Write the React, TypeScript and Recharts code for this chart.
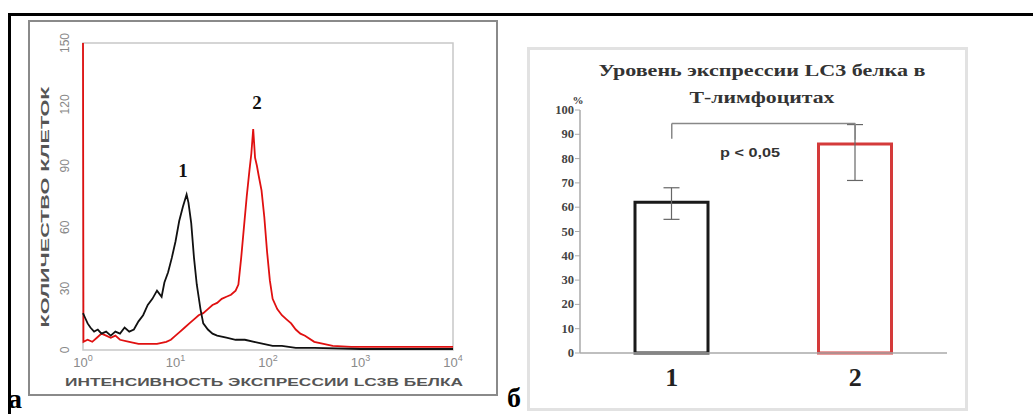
import React from 'react';
import {
  LineChart, Line, XAxis, YAxis, ReferenceArea,
  BarChart, Bar, Cell, ErrorBar, ReferenceLine,
} from 'recharts';

// ---------- Panel а: histogram (log10 intensity vs cell count) ----------
const histXTicks = [0, 1, 2, 3, 4];
const histYTicks = [0, 30, 60, 90, 120, 150];

const blackLogX = [0, 0.02, 0.05, 0.08, 0.12, 0.16, 0.2, 0.25, 0.3, 0.35, 0.4, 0.45, 0.5, 0.55, 0.6, 0.65, 0.7, 0.75, 0.8, 0.85, 0.88, 0.92, 0.96, 1.0, 1.04, 1.08, 1.12, 1.14, 1.17, 1.2, 1.23, 1.27, 1.3, 1.35, 1.4, 1.45, 1.55, 1.65, 1.75, 1.85, 1.95, 2.05, 2.15, 2.3, 2.5, 3.0, 3.5, 4.0];
const blackCount = [18, 16, 13, 11, 9, 10, 8, 9, 7, 9, 8, 11, 9, 10, 14, 17, 22, 25, 29, 26, 33, 38, 45, 53, 63, 70, 76, 72, 62, 45, 32, 20, 13, 10, 8, 7, 6, 5, 5, 4, 3, 2, 2, 1, 1, 0.5, 0.5, 0.5];

const redLogX = [0, 0.005, 0.05, 0.1, 0.15, 0.2, 0.25, 0.3, 0.35, 0.4, 0.5, 0.6, 0.7, 0.8, 0.9, 0.95, 1.0, 1.05, 1.1, 1.15, 1.2, 1.25, 1.3, 1.35, 1.4, 1.45, 1.5, 1.55, 1.6, 1.65, 1.68, 1.71, 1.74, 1.77, 1.8, 1.82, 1.84, 1.86, 1.88, 1.9, 1.93, 1.96, 1.99, 2.02, 2.05, 2.1, 2.15, 2.2, 2.25, 2.3, 2.35, 2.4, 2.5, 2.6, 2.7, 2.9, 3.2, 3.6, 4.0];
const redCount = [150, 4, 5, 4, 6, 8, 7, 6, 7, 5, 4, 3, 3, 3, 4, 5, 7, 9, 11, 13, 15, 17, 18, 20, 22, 23, 25, 26, 27, 29, 32, 45, 60, 75, 88, 96, 108, 94, 90, 85, 78, 65, 48, 34, 25, 20, 17, 15, 13, 10, 8, 7, 4, 3, 2, 1.5, 1.5, 1.5, 1.5];

const blackData = blackLogX.map((x, i) => ({ x, y: blackCount[i] }));
const redData = redLogX.map((x, i) => ({ x, y: redCount[i] }));

// ---------- Panel б: bar chart ----------
const barCategories = ['1', '2'];
const barValues = [62, 86];
const barErrLow = [7, 15];
const barErrHigh = [6, 8];
const barStrokes = ['#1a1a1a', '#d43a3a'];
const barYTicks = [0, 10, 20, 30, 40, 50, 60, 70, 80, 90, 100];

const barData = barCategories.map((name, i) => ({
  name,
  value: barValues[i],
  err: [barErrLow[i], barErrHigh[i]],
}));

const HistXTick = (props: any) => {
  const { x, payload } = props;
  return (
    <text x={x} y={347} textAnchor="middle" fill="#8a8a8a" fontFamily="Arial, 'Liberation Sans', sans-serif" fontSize={13}>
      <tspan>10</tspan>
      <tspan dy={-6} fontSize={9}>{payload.value}</tspan>
    </text>
  );
};

const HistYTick = (props: any) => {
  const { y, payload } = props;
  return (
    <text x={41} y={y} textAnchor="middle" fill="#888" fontFamily="Arial, 'Liberation Sans', sans-serif" fontSize={12}
      transform={`rotate(-90 41 ${y})`}>
      {payload.value}
    </text>
  );
};

const BarXTick = (props: any) => {
  const { x, payload } = props;
  return (
    <text x={x} y={339} textAnchor="middle" fill="#222" fontFamily="'Liberation Serif', 'Times New Roman', serif" fontWeight="bold" fontSize={26}>
      {payload.value}
    </text>
  );
};

const BarYTick = (props: any) => {
  const { y, payload } = props;
  return (
    <text x={47} y={y + 4} textAnchor="end" fill="#444" fontFamily="'Liberation Serif', 'Times New Roman', serif" fontWeight="bold" fontSize={12.5}>
      {payload.value}
    </text>
  );
};

export default function App() {
  return (
    <div style={{ position: 'absolute', left: 0, top: 0, width: 1033, height: 414, background: '#fff', overflow: 'hidden' }}>
      {/* table lines */}
      <div style={{ position: 'absolute', left: 8, top: 13, width: 1025, height: 3, background: '#000' }} />
      <div style={{ position: 'absolute', left: 8, top: 13, width: 3, height: 401, background: '#000' }} />

      {/* panel а frame */}
      <div style={{ position: 'absolute', left: 28, top: 20, width: 466, height: 372, border: '2px solid #8a8a8a' }} />
      <div style={{ position: 'absolute', left: 28, top: 20 }}>
        <LineChart width={470} height={376} margin={{ top: 23, right: 45, bottom: 0, left: 0 }}>
          <XAxis type="number" dataKey="x" domain={[0, 4]} ticks={histXTicks} height={46}
            axisLine={false} tickLine={false} tick={<HistXTick />} interval={0} />
          <YAxis type="number" domain={[0, 150]} ticks={histYTicks} width={55}
            axisLine={false} tickLine={false} tick={<HistYTick />} interval={0} />
          <ReferenceArea x1={0} x2={4} y1={0} y2={150} fill="none" stroke="#c8c8c8" strokeWidth={1.5} />
          <Line data={redData} dataKey="y" type="linear" stroke="#e01010" strokeWidth={1.8} dot={false} isAnimationActive={false} />
          <Line data={blackData} dataKey="y" type="linear" stroke="#111" strokeWidth={1.8} dot={false} isAnimationActive={false} />
        </LineChart>
      </div>

      {/* panel б frame */}
      <div style={{ position: 'absolute', left: 527, top: 47, width: 435, height: 358, border: '3px solid #e2e2e2' }} />
      <div style={{ position: 'absolute', left: 527, top: 47 }}>
        <BarChart width={438} height={361} data={barData} margin={{ top: 63, right: 18, bottom: 0, left: 0 }}>
          <XAxis dataKey="name" height={55} axisLine={{ stroke: '#aaa', strokeWidth: 1.5 }} tickLine={false} tick={<BarXTick />} />
          <YAxis type="number" domain={[0, 100]} ticks={barYTicks} width={53} interval={0}
            axisLine={{ stroke: '#aaa', strokeWidth: 1.5 }} tickLine={{ stroke: '#aaa' }} tickSize={5} tick={<BarYTick />} />
          <Bar dataKey="value" barSize={73} fill="#fff" strokeWidth={3} isAnimationActive={false}>
            {barData.map((d, i) => (
              <Cell key={d.name} stroke={barStrokes[i]} fill="#fff" />
            ))}
            <ErrorBar dataKey="err" width={8} stroke="#666" strokeWidth={1.2} direction="y" />
          </Bar>
          <ReferenceLine segment={[{ x: '1', y: 94.4 }, { x: '2', y: 94.4 }]} stroke="#888" strokeWidth={1.5} />
          <ReferenceLine segment={[{ x: '1', y: 94.4 }, { x: '1', y: 88.2 }]} stroke="#888" strokeWidth={1.5} />
          <ReferenceLine segment={[{ x: '2', y: 94.4 }, { x: '2', y: 87.8 }]} stroke="#888" strokeWidth={1.5} />
        </BarChart>
      </div>

      {/* annotations */}
      <svg width={1033} height={414} style={{ position: 'absolute', left: 0, top: 0, pointerEvents: 'none' }}>
        <text x={183} y={177} textAnchor="middle" fontFamily="'Liberation Serif', serif" fontWeight="bold" fontSize={19} fill="#111">1</text>
        <text x={257} y={109} textAnchor="middle" fontFamily="'Liberation Serif', serif" fontWeight="bold" fontSize={19} fill="#111">2</text>
        <text x={49} y={207} textAnchor="middle" fontFamily="Arial, 'Liberation Sans', sans-serif" fontWeight="bold" fontSize={11} fill="#555"
          textLength={241} lengthAdjust="spacingAndGlyphs" transform="rotate(-90 49 207)">КОЛИЧЕСТВО КЛЕТОК</text>
        <text x={264} y={386} textAnchor="middle" fontFamily="Arial, 'Liberation Sans', sans-serif" fontWeight="bold" fontSize={11} fill="#555"
          textLength={398} lengthAdjust="spacingAndGlyphs">ИНТЕНСИВНОСТЬ ЭКСПРЕССИИ LC3B БЕЛКА</text>

        <text x={762} y={76} textAnchor="middle" fontFamily="'Liberation Serif', serif" fontWeight="bold" fontSize={17} fill="#333"
          textLength={327} lengthAdjust="spacingAndGlyphs">Уровень экспрессии  LC3 белка в</text>
        <text x={762} y={103} textAnchor="middle" fontFamily="'Liberation Serif', serif" fontWeight="bold" fontSize={17} fill="#333"
          textLength={145} lengthAdjust="spacingAndGlyphs">Т-лимфоцитах</text>
        <text x={578} y={104} textAnchor="middle" fontFamily="'Liberation Serif', serif" fontWeight="bold" fontSize={11} fill="#333">%</text>
        <text x={750} y={157} textAnchor="middle" fontFamily="Arial, 'Liberation Sans', sans-serif" fontWeight="bold" fontSize={12} fill="#333"
          textLength={60} lengthAdjust="spacingAndGlyphs">p &lt; 0,05</text>

        <text x={8} y={408} fontFamily="'Liberation Serif', 'Times New Roman', serif" fontWeight="bold" fontSize={28} fill="#000">а</text>
        <text x={507} y={407} fontFamily="'Liberation Serif', 'Times New Roman', serif" fontWeight="bold" fontSize={28} fill="#000">б</text>
      </svg>
    </div>
  );
}
